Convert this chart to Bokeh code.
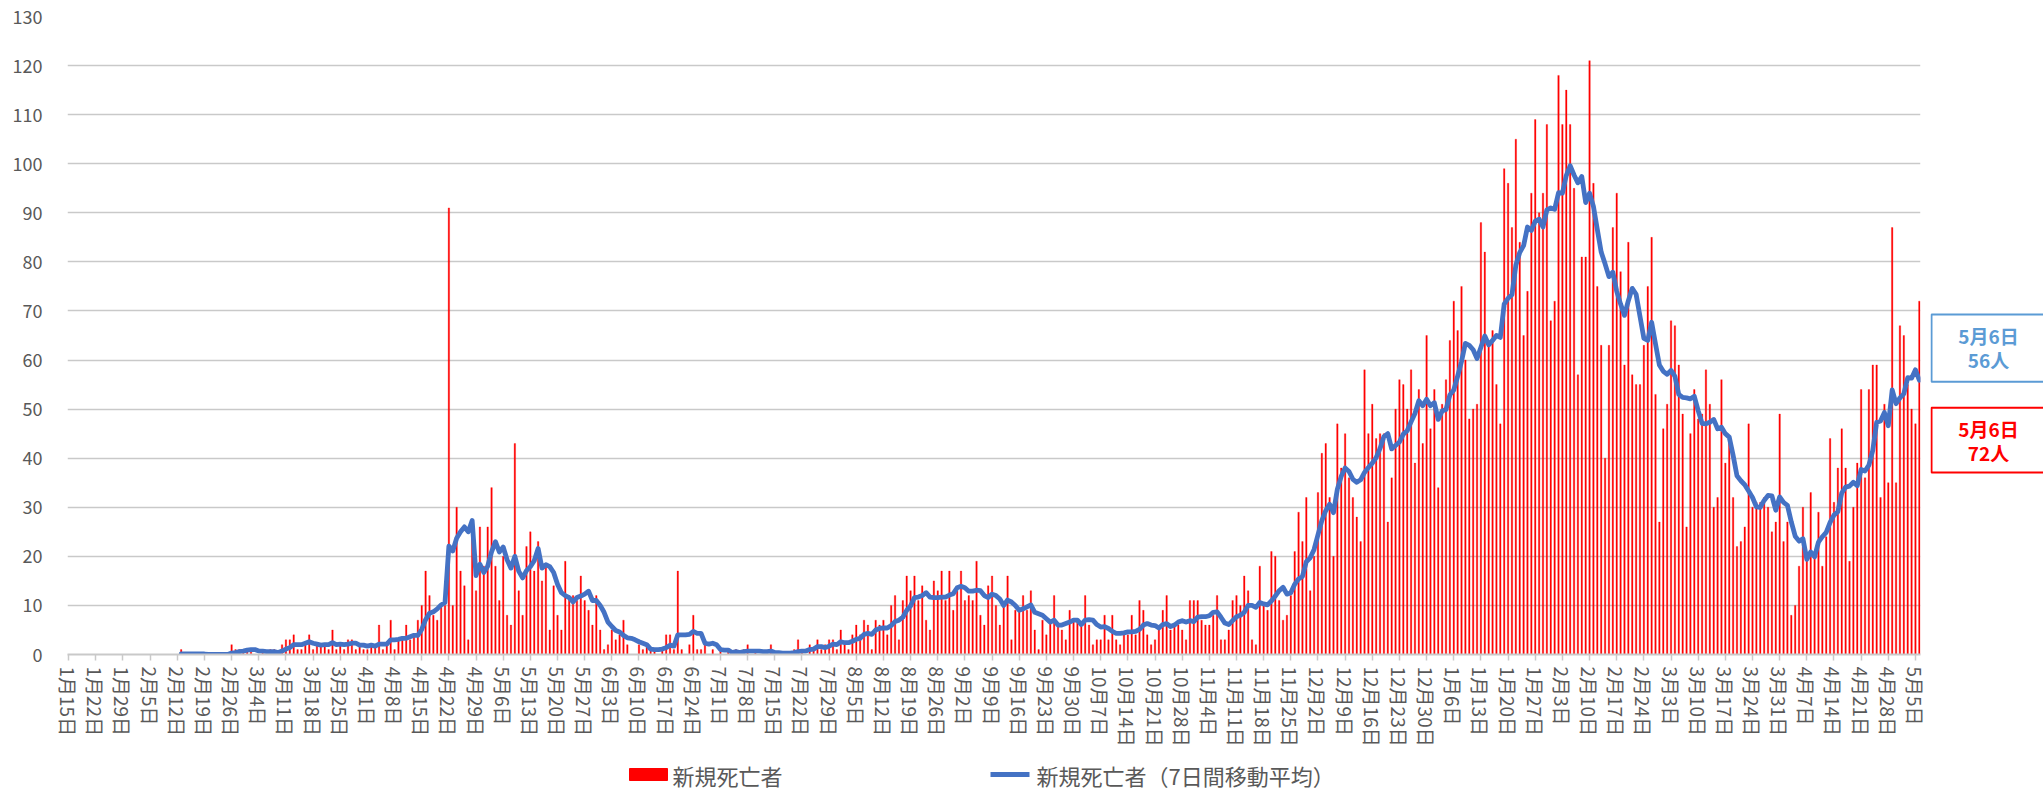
from bokeh.plotting import figure
from bokeh.layouts import column, row
from bokeh.models import Range1d, FixedTicker
from bokeh.core.properties import value
from bokeh.embed import file_html
from bokeh.resources import INLINE

FONT = "Noto Sans CJK JP"
GRAY = "#595959"
RED = "#FF0000"
BLUE_LINE = "#4472C4"
BLUE_BOX = "#5B9BD5"

# x-axis tick labels, one every 7 days starting 2020-01-15
tick_labels = [
    "1月15日", "1月22日", "1月29日", "2月5日", "2月12日", "2月19日", "2月26日",
    "3月4日", "3月11日", "3月18日", "3月25日", "4月1日", "4月8日", "4月15日",
    "4月22日", "4月29日", "5月6日", "5月13日", "5月20日", "5月27日", "6月3日",
    "6月10日", "6月17日", "6月24日", "7月1日", "7月8日", "7月15日", "7月22日",
    "7月29日", "8月5日", "8月12日", "8月19日", "8月26日", "9月2日", "9月9日",
    "9月16日", "9月23日", "9月30日", "10月7日", "10月14日", "10月21日", "10月28日",
    "11月4日", "11月11日", "11月18日", "11月25日", "12月2日", "12月9日", "12月16日",
    "12月23日", "12月30日", "1月6日", "1月13日", "1月20日", "1月27日", "2月3日",
    "2月10日", "2月17日", "2月24日", "3月3日", "3月10日", "3月17日", "3月24日",
    "3月31日", "4月7日", "4月14日", "4月21日", "4月28日", "5月5日",
]

# daily new deaths, 2020-01-15 .. 2021-05-06 (one row per week)
new_deaths = [
    0, 0, 0, 0, 0, 0, 0,
    0, 0, 0, 0, 0, 0, 0,
    0, 0, 0, 0, 0, 0, 0,
    0, 0, 0, 0, 0, 0, 0,
    0, 1, 0, 0, 0, 0, 0,
    0, 0, 0, 0, 0, 0, 0,
    2, 1, 1, 1, 1, 1, 0,
    0, 1, 0, 1, 1, 0, 2,
    3, 3, 4, 1, 1, 2, 4,
    1, 2, 2, 2, 1, 5, 1,
    2, 1, 3, 3, 1, 2, 1,
    1, 2, 2, 6, 1, 2, 7,
    1, 3, 3, 6, 3, 4, 7,
    10, 17, 12, 8, 7, 10, 10,
    91, 10, 30, 17, 14, 3, 26,
    13, 26, 18, 26, 34, 18, 11,
    20, 8, 6, 43, 13, 8, 22,
    25, 17, 23, 15, 18, 5, 14,
    8, 5, 19, 12, 12, 11, 16,
    11, 9, 6, 12, 5, 1, 2,
    5, 3, 4, 7, 2, 0, 0,
    2, 1, 2, 1, 1, 0, 1,
    4, 4, 1, 17, 1, 0, 2,
    8, 1, 1, 3, 0, 1, 0,
    1, 0, 1, 0, 1, 0, 1,
    2, 0, 1, 0, 0, 0, 2,
    0, 0, 0, 0, 0, 1, 3,
    1, 0, 2, 1, 3, 1, 2,
    3, 3, 1, 5, 2, 1, 4,
    6, 4, 7, 6, 1, 7, 6,
    7, 4, 10, 12, 3, 11, 16,
    13, 16, 11, 14, 7, 5, 15,
    13, 17, 11, 17, 9, 13, 17,
    11, 12, 11, 19, 8, 6, 14,
    16, 10, 6, 10, 16, 3, 9,
    9, 12, 9, 13, 5, 1, 7,
    4, 7, 12, 6, 5, 3, 9,
    7, 7, 6, 12, 6, 2, 3,
    3, 8, 3, 8, 3, 2, 4,
    4, 8, 4, 11, 9, 4, 2,
    3, 5, 9, 12, 5, 6, 6,
    5, 3, 11, 11, 11, 7, 6,
    6, 8, 12, 3, 3, 5, 11,
    12, 10, 16, 13, 3, 2, 18,
    10, 9, 21, 20, 11, 7, 8,
    12, 21, 29, 23, 32, 13, 20,
    33, 41, 43, 32, 20, 47, 38,
    45, 36, 32, 28, 23, 58, 45,
    51, 44, 45, 45, 27, 36, 50,
    56, 55, 50, 58, 39, 54, 43,
    65, 46, 54, 34, 51, 56, 64,
    72, 66, 75, 60, 48, 50, 51,
    88, 82, 63, 66, 55, 47, 99,
    96, 87, 105, 84, 65, 74, 94,
    109, 90, 94, 108, 68, 72, 118,
    108, 115, 108, 95, 57, 81, 81,
    121, 96, 75, 63, 40, 63, 87,
    94, 78, 59, 84, 57, 55, 55,
    63, 75, 85, 53, 27, 46, 51,
    68, 67, 59, 49, 26, 45, 54,
    48, 49, 58, 51, 30, 32, 56,
    39, 44, 32, 22, 23, 26, 47,
    30, 31, 31, 32, 30, 25, 27,
    49, 23, 27, 8, 10, 18, 30,
    20, 33, 20, 29, 18, 24, 44,
    31, 38, 46, 38, 19, 30, 39,
    54, 36, 54, 59, 59, 32, 51,
    35, 87, 35, 67, 65, 55, 50,
    47, 72,
]

# 7-day moving average as drawn, starting on day 29 (2020-02-13)
MA_START = 29
ma7 = [
    0.1, 0.1, 0.1, 0.1, 0.1, 0.1, 0.1,
    0.0, 0.0, 0.0, 0.0, 0.0, 0.0,
    0.3, 0.4, 0.6, 0.7, 0.9, 1.0, 1.0,
    0.7, 0.7, 0.6, 0.6, 0.6, 0.4, 0.7,
    1.1, 1.4, 2.0, 2.0, 2.0, 2.3, 2.6,
    2.3, 2.1, 1.9, 2.0, 2.0, 2.4, 2.0,
    2.1, 2.0, 2.1, 2.3, 2.3, 1.9, 1.9,
    1.7, 1.9, 1.7, 2.1, 2.1, 2.1, 3.0,
    3.0, 3.1, 3.3, 3.3, 3.6, 3.9, 3.9,
    5.1, 7.1, 8.4, 8.7, 9.3, 10.1, 10.6,
    22.1, 21.1, 23.7, 25.0, 26.0, 25.0, 27.3,
    16.1, 18.4, 16.7, 18.0, 20.9, 23.0, 20.9,
    21.9, 19.3, 17.6, 20.0, 17.0, 15.6, 17.1,
    17.9, 19.1, 21.6, 17.6, 18.3, 17.9, 16.7,
    14.3, 12.6, 12.0, 11.6, 10.7, 11.6, 11.9,
    12.3, 12.9, 11.0, 11.0, 10.0, 8.6, 6.6,
    5.7, 4.9, 4.6, 3.9, 3.4, 3.3, 3.0,
    2.6, 2.3, 2.0, 1.1, 1.0, 1.0, 1.1,
    1.4, 1.9, 1.7, 4.0, 4.0, 4.0, 4.1,
    4.7, 4.3, 4.3, 2.3, 2.1, 2.3, 2.0,
    1.0, 0.9, 0.9, 0.4, 0.6, 0.4, 0.6,
    0.7, 0.7, 0.7, 0.7, 0.6, 0.6, 0.7,
    0.4, 0.4, 0.3, 0.3, 0.3, 0.4, 0.6,
    0.7, 0.7, 1.0, 1.1, 1.6, 1.6, 1.4,
    1.7, 2.1, 2.0, 2.6, 2.4, 2.4, 2.7,
    3.1, 3.3, 4.1, 4.3, 4.1, 5.0, 5.3,
    5.4, 5.4, 5.9, 6.7, 7.0, 7.6, 9.0,
    9.9, 11.6, 11.7, 12.0, 12.6, 11.7, 11.6,
    11.6, 11.7, 11.7, 12.1, 12.4, 13.6, 13.9,
    13.6, 12.9, 12.9, 13.1, 13.0, 12.0, 11.6,
    12.3, 12.0, 11.3, 10.0, 11.1, 10.7, 10.0,
    9.0, 9.3, 9.7, 10.1, 8.6, 8.3, 8.0,
    7.3, 6.6, 7.0, 6.0, 6.0, 6.3, 6.6,
    7.0, 7.0, 6.1, 7.0, 7.1, 7.0, 6.1,
    5.6, 5.7, 5.3, 4.7, 4.3, 4.3, 4.4,
    4.6, 4.6, 4.7, 5.1, 6.0, 6.3, 6.0,
    5.9, 5.4, 6.1, 6.3, 5.7, 6.0, 6.6,
    6.9, 6.6, 6.9, 6.7, 7.6, 7.7, 7.7,
    7.9, 8.6, 8.7, 7.6, 6.4, 6.1, 6.9,
    7.7, 8.0, 8.6, 10.0, 10.0, 9.6, 10.6,
    10.3, 10.1, 10.9, 11.9, 13.0, 13.7, 12.3,
    12.6, 14.3, 15.4, 15.9, 18.9, 19.7, 21.4,
    24.4, 27.3, 29.3, 30.6, 28.9, 33.7, 36.3,
    38.0, 37.3, 35.7, 35.1, 35.6, 37.1, 38.1,
    39.0, 40.1, 42.0, 44.4, 45.0, 41.9, 42.6,
    43.3, 44.9, 45.6, 47.4, 49.1, 51.7, 50.7,
    52.0, 50.7, 51.3, 47.9, 49.6, 49.9, 52.9,
    53.9, 56.7, 59.7, 63.4, 63.0, 62.1, 60.3,
    62.6, 64.9, 63.1, 64.0, 65.0, 64.6, 71.4,
    72.6, 73.3, 79.3, 81.9, 83.3, 87.1, 86.4,
    88.3, 88.7, 87.1, 90.6, 91.0, 90.7, 94.1,
    94.0, 97.6, 99.6, 97.7, 96.1, 97.4, 92.1,
    94.0, 91.3, 86.6, 82.0, 79.6, 77.0, 77.9,
    74.0, 71.4, 69.1, 72.1, 74.6, 73.4, 68.9,
    64.4, 64.0, 67.7, 63.3, 59.0, 57.7, 57.1,
    57.9, 56.7, 53.0, 52.4, 52.3, 52.1, 52.6,
    49.7, 47.1, 47.0, 47.3, 47.9, 46.0, 46.3,
    45.0, 44.3, 40.6, 36.4, 35.4, 34.6, 33.3,
    32.0, 30.1, 30.0, 31.4, 32.4, 32.3, 29.4,
    32.1, 31.0, 30.4, 27.0, 24.1, 23.1, 23.6,
    19.4, 20.9, 19.9, 22.9, 24.0, 24.9, 26.9,
    28.4, 29.1, 32.9, 34.1, 34.3, 35.1, 34.4,
    37.7, 37.4, 38.6, 41.6, 47.3, 47.6, 49.3,
    46.6, 53.9, 51.1, 52.3, 53.1, 56.4, 56.3,
    58.0, 55.9,
]

y_ticks = list(range(0, 131, 10))
last_date_label = "5月6日"
legend_labels = ["新規死亡者", "新規死亡者（7日間移動平均）"]

day = list(range(len(new_deaths)))
ma_day = list(range(MA_START, MA_START + len(ma7)))
x_ticks = [7 * i for i in range(len(tick_labels))]

# ---------------- main chart ----------------
MAIN_W, MAIN_H = 1930, 755
BORDER_TOP, BORDER_BOTTOM = 16, 101
p = figure(
    width=MAIN_W, height=MAIN_H,
    output_backend="svg", toolbar_location=None,
    x_range=Range1d(-0.3, len(new_deaths) - 0.7),
    y_range=Range1d(0, 130),
    min_border_left=67, min_border_right=10,
    min_border_top=BORDER_TOP, min_border_bottom=BORDER_BOTTOM,
)
p.outline_line_color = None
p.background_fill_color = "white"
p.border_fill_color = "white"

bars = p.vbar(x=day, top=new_deaths, width=0.38,
              fill_color=RED, line_color=RED, line_width=0.3)
line = p.line(ma_day, ma7, line_width=4.8, line_color=BLUE_LINE,
              line_join="round", line_cap="round")

p.xgrid.visible = False
p.ygrid.grid_line_color = "#C9C9C9"
p.ygrid.grid_line_width = 1.6

p.yaxis.ticker = FixedTicker(ticks=y_ticks)
p.yaxis.axis_line_color = None
p.yaxis.major_tick_line_color = None
p.yaxis.minor_tick_line_color = None
p.yaxis.major_label_text_font = FONT
p.yaxis.major_label_text_font_size = "18px"
p.yaxis.major_label_text_color = GRAY
p.yaxis.major_label_standoff = 19

p.xaxis.ticker = FixedTicker(ticks=x_ticks)
p.xaxis.major_label_overrides = {t: lab for t, lab in zip(x_ticks, tick_labels)}
p.xaxis.major_label_orientation = "vertical"
p.xaxis.axis_line_color = "#C9C9C9"
p.xaxis.axis_line_width = 2
p.xaxis.major_tick_line_color = "#C9C9C9"
p.xaxis.major_tick_line_width = 1.5
p.xaxis.major_tick_out = 6
p.xaxis.major_tick_in = 0
p.xaxis.minor_tick_line_color = None
p.xaxis.major_label_text_font = FONT
p.xaxis.major_label_text_font_size = "19px"
p.xaxis.major_label_text_color = GRAY
p.xaxis.major_label_standoff = 6

# ---------------- call-out boxes on the right ----------------
# same vertical borders and y-scale as the main chart, x in page pixels
pr = figure(width=2043 - MAIN_W, height=MAIN_H, output_backend="svg",
            toolbar_location=None,
            x_range=Range1d(MAIN_W, 2043), y_range=p.y_range,
            x_axis_type=None, y_axis_type=None,
            min_border_left=0, min_border_right=0,
            min_border_top=BORDER_TOP, min_border_bottom=BORDER_BOTTOM)
pr.outline_line_color = None
pr.grid.visible = False
pr.background_fill_color = "white"
pr.border_fill_color = "white"
pr.quad(left=[1931, 1931], right=[2060, 2060], top=[69.3, 50.3], bottom=[55.6, 37.1],
        fill_color="white", line_color=[BLUE_BOX, RED], line_width=2)
pr.text(x=[1988] * 4, y=[65.0, 60.1, 46.0, 41.2],
        text=[last_date_label, f"{round(ma7[-1])}人",
              last_date_label, f"{new_deaths[-1]}人"],
        text_color=[BLUE_BOX, BLUE_BOX, RED, RED],
        text_font=value(FONT), text_font_size="19px", text_font_style="bold",
        text_align="center", text_baseline="middle")

# ---------------- legend strip at the bottom ----------------
LEG_H = 790 - MAIN_H
pl = figure(width=2043, height=LEG_H, output_backend="svg",
            toolbar_location=None,
            x_range=Range1d(0, 2043), y_range=Range1d(790, MAIN_H),
            x_axis_type=None, y_axis_type=None, min_border=0)
pl.outline_line_color = None
pl.grid.visible = False
pl.background_fill_color = "white"
pl.border_fill_color = "white"
pl.quad(left=[629], right=[667], top=[768], bottom=[780],
        fill_color=RED, line_color=RED)
pl.line(x=[990, 1029], y=[774, 774], line_width=4.8, line_color=BLUE_LINE)
pl.text(x=[672, 1036], y=[774, 774], text=legend_labels,
        text_color=GRAY, text_font=value(FONT), text_font_size="22px",
        text_align="left", text_baseline="middle")

layout = column(row(p, pr, spacing=0), pl, spacing=0)

open("out.html", "w").write(file_html(layout, INLINE))
